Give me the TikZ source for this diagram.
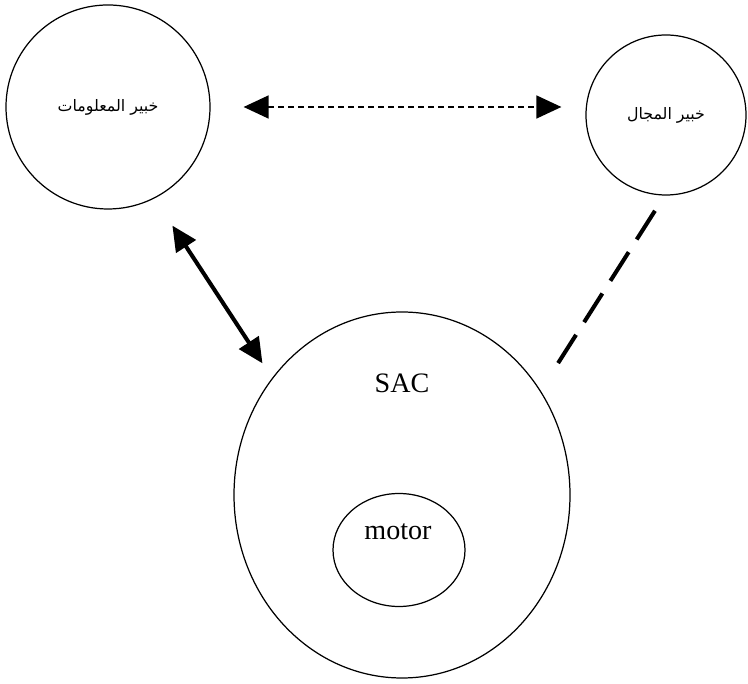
\documentclass[tikz,border=0pt]{standalone}
\usepackage{fontspec}
\setmainfont{Liberation Serif}
\newfontfamily\arabicfont[Script=Arabic]{DejaVu Sans}
\TeXXeTstate=1
\usetikzlibrary{arrows.meta,shapes.geometric}

\tikzset{
  expert/.style={draw, circle, line width=0.7pt, inner sep=0pt},
  blob/.style={draw, ellipse, line width=0.7pt, inner sep=0pt},
  ar/.style={font=\arabicfont\fontsize{9}{11}\selectfont},
  lat/.style={font=\fontsize{16}{19}\selectfont},
}

\begin{document}
\begin{tikzpicture}[>={Triangle[length=0.5cm,width=0.46cm]}]
  \useasboundingbox (0,0) rectangle (14.96,13.66);
  % the two experts
  \node[expert, minimum size=4.08cm, ar] (info) at (2.16,11.52) {\beginR خبير المعلومات\endR};
  \node[expert, minimum size=3.2cm, ar] (domain) at (13.32,11.36) {\beginR خبير المجال\endR};
  % the system and its motor
  \node[blob, minimum width=6.72cm, minimum height=7.32cm] (sac) at (8.04,3.76) {};
  \node[blob, minimum width=2.64cm, minimum height=2.26cm] (motor) at (7.98,2.66) {};
  \node[lat] (sactxt) at (8.04,6.0) {SAC};
  \node[lat] (motortxt) at (7.96,3.02) {motor};
  % links
  \draw[<->, dash pattern=on 0.12cm off 0.08cm, line width=0.85pt, shorten <=0.66cm, shorten >=0.48cm]
    (info.east) -- (info.east -| domain.west);
  \draw[<->, line width=2.3pt, shorten <=0.65cm, shorten >=0.35cm] (info.-63) -- (sac.138.5);
  \draw[line width=2.3pt, dash pattern=on 0.68cm off 0.3cm, shorten <=0.36cm, shorten >=0.65cm]
    (domain.-91) -- (sac.37.6);
\end{tikzpicture}
\end{document}
